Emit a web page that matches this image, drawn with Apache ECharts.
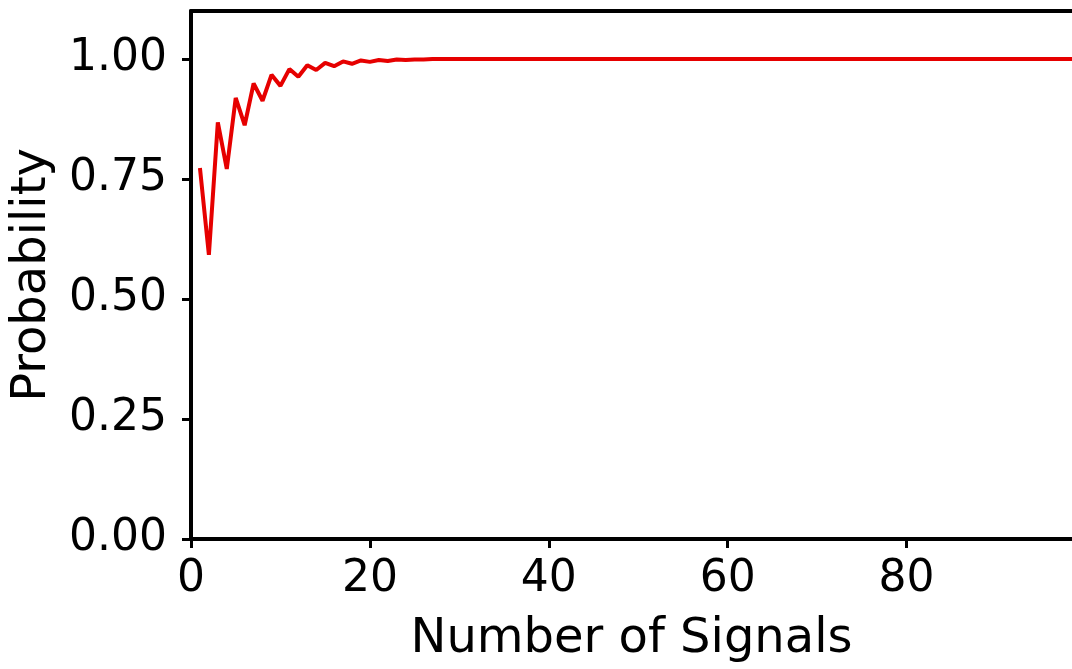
<!DOCTYPE html>
<html style="height: 100%">
<head>
    <meta charset="utf-8">
    <script src="https://cdn.jsdelivr.net/npm/echarts@6/dist/echarts.min.js"></script>
    <style>
        html, body { margin: 0; padding: 0; background: #fff; }
        #container { width: 1072px; height: 669px; }
    </style>
</head>
<body>
<div id="container"></div>
<script type="text/javascript">
    // number of signals (1..99)
    var signals = [];
    for (var n = 1; n <= 99; n++) signals.push(n);

    // probability, one per signal count
    var probability = [
        0.773, 0.592, 0.868, 0.771, 0.919, 0.862, 0.949, 0.913, 0.967, 0.944,
        0.979, 0.963, 0.987, 0.977, 0.992, 0.985, 0.995, 0.990, 0.997, 0.994,
        0.998, 0.996, 0.999, 0.998, 0.999, 0.999, 1.000, 1.000, 1.000, 1.000,
        1.000, 1.000, 1.000, 1.000, 1.000, 1.000, 1.000, 1.000, 1.000, 1.000,
        1.000, 1.000, 1.000, 1.000, 1.000, 1.000, 1.000, 1.000, 1.000, 1.000,
        1.000, 1.000, 1.000, 1.000, 1.000, 1.000, 1.000, 1.000, 1.000, 1.000,
        1.000, 1.000, 1.000, 1.000, 1.000, 1.000, 1.000, 1.000, 1.000, 1.000,
        1.000, 1.000, 1.000, 1.000, 1.000, 1.000, 1.000, 1.000, 1.000, 1.000,
        1.000, 1.000, 1.000, 1.000, 1.000, 1.000, 1.000, 1.000, 1.000, 1.000,
        1.000, 1.000, 1.000, 1.000, 1.000, 1.000, 1.000, 1.000, 1.000
    ];

    var xTicks = [0, 20, 40, 60, 80];
    var yTicks = [0, 0.25, 0.5, 0.75, 1.0];

    var points = [];
    for (var i = 0; i < signals.length; i++) {
        points.push([signals[i], probability[i]]);
    }

    var font = 'DejaVu Sans';
    var myChart = echarts.init(document.getElementById('container'));
    var option = {
        animation: false,
        backgroundColor: '#fff',
        grid: {
            left: 191,
            top: 11,
            bottom: 129,
            right: 0
        },
        xAxis: [
            {
                type: 'value',
                min: 0,
                max: 98.5,
                name: 'Number of Signals',
                nameLocation: 'middle',
                nameGap: 77,
                nameTextStyle: { fontFamily: font, fontSize: 48, color: '#000' },
                axisLine: { lineStyle: { color: '#000', width: 4 } },
                axisTick: { show: true, length: 9, lineStyle: { color: '#000', width: 3 }, customValues: xTicks },
                axisLabel: { fontFamily: font, fontSize: 44, color: '#000', margin: 19, customValues: xTicks },
                splitLine: { show: false }
            },
            {
                // top spine only
                type: 'value',
                position: 'top',
                min: 0,
                max: 98.5,
                axisLine: { show: true, lineStyle: { color: '#000', width: 4 } },
                axisTick: { show: false },
                axisLabel: { show: false },
                splitLine: { show: false }
            }
        ],
        yAxis: {
            type: 'value',
            min: 0,
            max: 1.1,
            name: 'Probability',
            nameLocation: 'middle',
            nameGap: 134,
            nameTextStyle: { fontFamily: font, fontSize: 48, color: '#000' },
            axisLine: { lineStyle: { color: '#000', width: 4 } },
            axisTick: { show: true, length: 9, lineStyle: { color: '#000', width: 3 }, customValues: yTicks },
            axisLabel: {
                fontFamily: font, fontSize: 44, color: '#000', margin: 24,
                customValues: yTicks,
                formatter: function (v) { return v.toFixed(2); }
            },
            splitLine: { show: false }
        },
        series: [
            {
                type: 'line',
                data: points,
                symbol: 'none',
                lineStyle: { color: '#e60000', width: 4 }
            }
        ]
    };
    myChart.setOption(option);
</script>
</body>
</html>
